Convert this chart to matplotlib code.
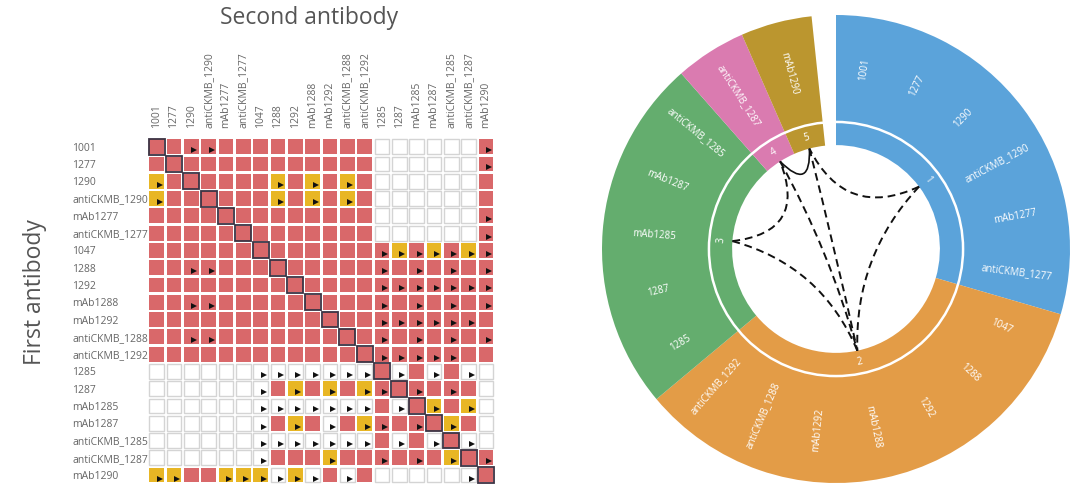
import numpy as np
import matplotlib.pyplot as plt
from matplotlib.patches import Rectangle, Wedge, Circle, PathPatch
from matplotlib.path import Path

plt.rcParams['font.family'] = ['Open Sans', 'DejaVu Sans']

antibodies = ['1001', '1277', '1290', 'antiCKMB_1290', 'mAb1277', 'antiCKMB_1277',
              '1047', '1288', '1292', 'mAb1288', 'mAb1292', 'antiCKMB_1288', 'antiCKMB_1292',
              '1285', '1287', 'mAb1285', 'mAb1287', 'antiCKMB_1285', 'antiCKMB_1287', 'mAb1290']

# R = blocks (red), Y = partial (yellow), W = no blocking (white)
cell_state = [
    "RRRRRRRRRRRRRWWWWWWR",
    "RRRRRRRRRRRRRWWWWWWR",
    "YRRRRRRYRYRYRWWWWWWR",
    "YRRRRRRYRYRYRWWWWWWR",
    "RRRRRRRRRRRRRWWWWWWR",
    "RRRRRRRRRRRRRWWWWWWR",
    "RRRRRRRRRRRRRRYRYRYR",
    "RRRRRRRRRRRRRRRRRRRR",
    "RRRRRRRRRRRRRRRRRRRR",
    "RRRRRRRRRRRRRRRRRRRR",
    "RRRRRRRRRRRRRRRRRRRR",
    "RRRRRRRRRRRRRRRRRRRR",
    "RRRRRRRRRRRRRRRRRRRR",
    "WWWWWWWWWWWWWRWRWRWW",
    "WWWWWWWRYRYRYRRRRRRW",
    "WWWWWWWWWWWWWRWRYRYW",
    "WWWWWWWRYRWRYRRRRYRW",
    "WWWWWWWWWWWWWRWRWRWW",
    "WWWWWWWRRRYRRRRRRYRR",
    "YYRRYYYWYWRWRWWWWWWR",
]

# '>' marks an asymmetric pair
cell_flag = [
    "..>>...............>",
    "...................>",
    ">......>.>.>........",
    ">......>.>.>........",
    "...................>",
    "...................>",
    ".............>>>>>>>",
    "..>>.........>.>.>.>",
    ".............>>>>>>>",
    "..>>.........>.>.>.>",
    ".............>>>>>>.",
    "..>>.........>.>.>.>",
    ".............>>>>>..",
    "......>>>>>>>.>.>.>.",
    "......>.>.>.>>.>.>..",
    "......>>>>>>>.>.>.>.",
    "......>.>.>.>>.>.>..",
    "......>>>>>>>.>.>.>.",
    "......>...>..>.>.>.>",
    ">>..>>>>>>.>......>.",
]

bin_of = [1, 1, 1, 1, 1, 1, 2, 2, 2, 2, 2, 2, 2, 3, 3, 3, 3, 3, 4, 5]
bin_colors = {1: '#5ba3da', 2: '#e39c47', 3: '#64ad6e', 4: '#da7bb0', 5: '#bb962f'}

# links between bins in the circle
links = [(1, 5), (1, 2), (3, 4), (3, 2), (4, 2), (5, 2)]
solid_links = [(4, 5)]

state_colors = {'R': '#d9686a', 'Y': '#e8b624', 'W': 'white'}

fig = plt.figure(figsize=(10.8, 5.03), dpi=100)

# ---------------- heatmap ----------------
W, H = 1080, 503
ax = fig.add_axes([148 / W, 1 - 483.7 / H, 346.7 / W, 345.6 / H])
n = len(antibodies)
s = 0.86
for i in range(n):
    for j in range(n):
        st = cell_state[i][j]
        if st == 'W':
            ax.add_patch(Rectangle((j - s / 2, i - s / 2), s, s, facecolor='white',
                                   edgecolor='#d4d4d4', lw=1.0))
        else:
            ax.add_patch(Rectangle((j - s / 2, i - s / 2), s, s,
                                   facecolor=state_colors[st], edgecolor='none'))
        if i == j:
            ax.add_patch(Rectangle((j - 0.46, i - 0.46), 0.92, 0.92, facecolor='none',
                                   edgecolor='#3b3343', lw=1.3))
        if cell_flag[i][j] == '>':
            ax.plot(j + 0.18, i + 0.2, marker='>', color='#111111', markersize=3.8,
                    markeredgewidth=0)

ax.set_xlim(-0.5, n - 0.5)
ax.set_ylim(n - 0.5, -0.5)
ax.set_xticks(range(n))
ax.set_yticks(range(n))
ax.xaxis.tick_top()
ax.set_xticklabels(antibodies, rotation=90, va='bottom', fontsize=7.5, color='#666666')
ax.set_yticklabels(antibodies, ha='left', fontsize=7.5, color='#666666')
ax.tick_params(axis='both', length=0)
ax.tick_params(axis='x', pad=7)
ax.tick_params(axis='y', pad=54.5)
for sp in ax.spines.values():
    sp.set_visible(False)

fig.text(309 / W, 1 - 18 / H, 'Second antibody', ha='center', va='center',
         fontsize=16.5, color='#555555')
fig.text(35 / W, 1 - 292 / H, 'First antibody', ha='center', va='center',
         rotation=90, fontsize=16.5, color='#555555')

# ---------------- circular binning plot ----------------
cx, cy, R = 836, 249, 234
ax2 = fig.add_axes([(cx - R) / W, 1 - (cy + R) / H, 2 * R / W, 2 * R / H])
ax2.set_xlim(-1, 1)
ax2.set_ylim(-1, 1)
ax2.set_aspect('equal')
ax2.axis('off')

r_hole, r_sep, r_lab, r_num = 0.444, 0.543, 0.778, 0.492
gap = 6.0
step = (360 - gap) / n
start = 90

bins = sorted(set(bin_of))
bin_mid = {}
for b in bins:
    idx = [k for k in range(n) if bin_of[k] == b]
    t2 = start - idx[0] * step
    t1 = start - (idx[-1] + 1) * step
    ax2.add_patch(Wedge((0, 0), 1.0, t1, t2, width=1.0 - r_hole,
                        facecolor=bin_colors[b], edgecolor='none'))
    mid = (t1 + t2) / 2
    bin_mid[b] = mid
    a = np.deg2rad(mid)
    m = ((mid + 180) % 360) - 180
    rot = m - 90 if m >= 0 else m + 90
    ax2.text(r_num * np.cos(a), r_num * np.sin(a), str(b), color='white', fontsize=7,
             ha='center', va='center', rotation=rot)

ax2.add_patch(Circle((0, 0), r_sep, facecolor='none', edgecolor='white', lw=1.8))

for k, name in enumerate(antibodies):
    mid = start - (k + 0.5) * step
    a = np.deg2rad(mid)
    m = ((mid + 180) % 360) - 180
    rot = m if -90 <= m <= 90 else m - 180
    ax2.text(r_lab * np.cos(a), r_lab * np.sin(a), name, color='white', fontsize=7,
             ha='center', va='center', rotation=rot, rotation_mode='anchor')


def link_path(b1, b2, pull=0.35):
    a1, a2 = np.deg2rad(bin_mid[b1]), np.deg2rad(bin_mid[b2])
    p0 = np.array([np.cos(a1), np.sin(a1)]) * r_hole
    p2 = np.array([np.cos(a2), np.sin(a2)]) * r_hole
    c = pull * (p0 + p2) / 2
    return Path([p0, c, p2], [Path.MOVETO, Path.CURVE3, Path.CURVE3])


for b1, b2 in links:
    ax2.add_patch(PathPatch(link_path(b1, b2), facecolor='none', edgecolor='#111111',
                            lw=1.4, linestyle=(0, (4, 2.5))))
for b1, b2 in solid_links:
    ax2.add_patch(PathPatch(link_path(b1, b2, pull=0.6), facecolor='none',
                            edgecolor='#111111', lw=1.2))

fig.savefig('out.png', dpi=100)
